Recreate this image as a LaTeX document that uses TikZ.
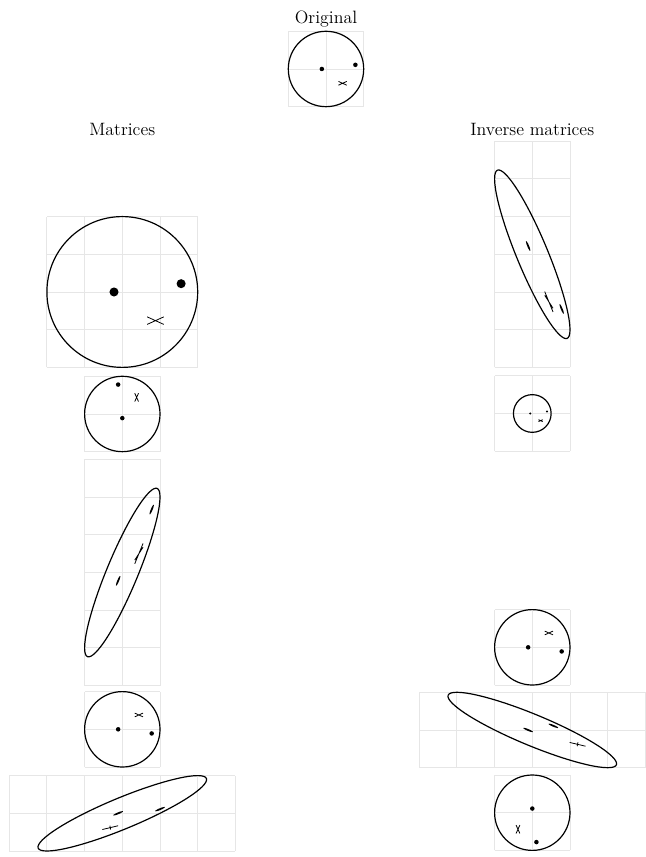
\documentclass[tikz,border=0pt]{standalone}
\usepackage{tikz}

\definecolor{gridgray}{RGB}{230,230,230}

% the face that every panel maps
\newcommand{\drawface}{%
  \fill (-0.11,0) circle (0.06);
  \fill (0.78,0.11) circle (0.06);
  \draw[mouth] (0.33,-0.43) -- (0.55,-0.33) (0.33,-0.33) -- (0.55,-0.43);
  \draw[outline] (0,0) circle (1);
}
% panel: centre, grid half width, grid half height, map
\newcommand{\mappanel}[4]{%
  \begin{scope}[shift={#1}]
    \draw[gridline] (-#2,-#3) grid (#2,#3);
    \begin{scope}[#4]
      \drawface
    \end{scope}
  \end{scope}
}

\begin{document}
\begin{tikzpicture}[
  gridline/.style={draw=gridgray, line width=0.7pt},
  outline/.style={draw=black, line width=0.9pt},
  mouth/.style={draw=black, line width=0.6pt},
  title/.style={anchor=base, font=\fontsize{13.5}{16}\selectfont}
]
  \useasboundingbox (0,0) rectangle (17.109,22.732);

  % Titles
  \node[title] (orig) at (8.647,22.12) {Original};
  \node[title] (mat)  at (3.244,19.15) {Matrices};
  \node[title] (inv)  at (14.119,19.15) {Inverse matrices};

  % Original
  \mappanel{(8.647,20.902)}{1}{1}{}

  % Matrices, top down
  \mappanel{(3.244,14.987)}{2}{2}{scale=2}
  \mappanel{(3.244,11.751)}{1}{1}{rotate=90}
  \mappanel{(3.244,7.546)}{1}{3}{cm={1,2,0,1,(0,0)}}
  \mappanel{(3.244,3.387)}{1}{1}{yscale=-1}
  \mappanel{(3.244,1.159)}{3}{1}{cm={1,0,2,1,(0,0)}}

  % Inverse matrices, top down
  \mappanel{(14.119,15.987)}{1}{3}{cm={1,-2,0,1,(0,0)}}
  \mappanel{(14.119,11.764)}{1}{1}{scale=0.5}
  \mappanel{(14.119,5.562)}{1}{1}{yscale=-1}
  \mappanel{(14.119,3.369)}{3}{1}{cm={1,0,-2,1,(0,0)}}
  \mappanel{(14.119,1.175)}{1}{1}{rotate=-90}
\end{tikzpicture}
\end{document}
